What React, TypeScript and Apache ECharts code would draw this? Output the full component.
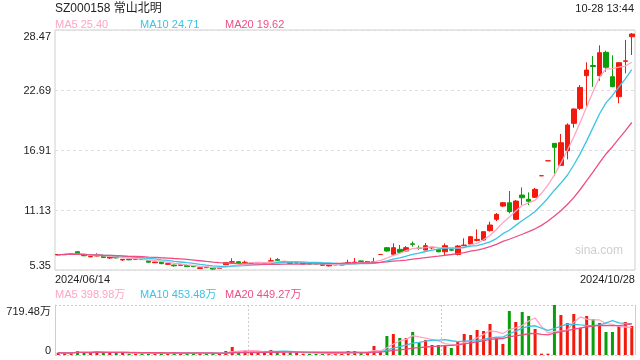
import React, { useEffect, useRef } from 'react';
import * as echarts from 'echarts';

const dates = [
  '2024/06/14', '2024/06/17', '2024/06/18', '2024/06/19', '2024/06/20', '2024/06/21', '2024/06/24', '2024/06/25', '2024/06/26', '2024/06/27', '2024/06/28',
  '2024/07/01', '2024/07/02', '2024/07/03', '2024/07/04', '2024/07/05', '2024/07/08', '2024/07/09', '2024/07/10', '2024/07/11', '2024/07/12',
  '2024/07/15', '2024/07/16', '2024/07/17', '2024/07/18', '2024/07/19', '2024/07/22', '2024/07/23', '2024/07/24', '2024/07/25', '2024/07/26',
  '2024/07/29', '2024/07/30', '2024/07/31',
  '2024/08/01', '2024/08/02', '2024/08/05', '2024/08/06', '2024/08/07', '2024/08/08', '2024/08/09', '2024/08/12', '2024/08/13', '2024/08/14',
  '2024/08/15', '2024/08/16', '2024/08/19', '2024/08/20', '2024/08/21', '2024/08/22', '2024/08/23', '2024/08/26', '2024/08/27', '2024/08/28',
  '2024/08/29', '2024/08/30',
  '2024/09/02', '2024/09/03', '2024/09/04', '2024/09/05', '2024/09/06', '2024/09/09', '2024/09/10', '2024/09/11', '2024/09/12', '2024/09/13',
  '2024/09/18', '2024/09/19', '2024/09/20', '2024/09/23', '2024/09/24', '2024/09/25', '2024/09/26', '2024/09/27', '2024/09/30',
  '2024/10/08', '2024/10/09', '2024/10/10', '2024/10/11', '2024/10/14', '2024/10/15', '2024/10/16', '2024/10/17', '2024/10/18',
  '2024/10/21', '2024/10/22', '2024/10/23', '2024/10/24', '2024/10/25', '2024/10/28',
];

const opens = [
  6.80, 6.82, 6.85, 7.11, 6.78, 6.62, 6.70, 6.70, 6.50, 6.63,
  6.32, 6.40, 6.38, 6.38, 6.23, 6.05, 6.12, 5.90, 5.83, 5.80,
  5.78, 5.74, 5.50, 5.62, 5.56, 5.50, 5.86, 6.10, 6.15, 6.05,
  6.00, 6.05, 6.04, 6.20, 6.35, 6.12, 6.12, 6.03, 5.93, 5.99,
  5.97, 5.86, 5.75, 5.84, 5.83, 6.00, 6.02, 6.22, 6.12, 6.08,
  6.84, 7.50, 6.86, 7.34, 7.18, 7.87, 7.46, 7.28, 7.48, 7.34,
  7.11, 7.30, 6.85, 7.70, 7.85, 8.20, 8.24, 9.14, 10.23, 11.51,
  11.83, 10.23, 12.57, 12.16, 12.35, 14.43, 15.87, 17.55, 15.43, 16.84,
  19.48, 20.92, 24.07, 25.05, 24.07, 26.32, 23.97, 22.04, 25.45, 27.82,
];
const closes = [
  6.84, 6.86, 6.90, 6.92, 6.72, 6.65, 6.74, 6.55, 6.63, 6.52,
  6.38, 6.33, 6.41, 6.35, 6.10, 6.12, 5.96, 5.96, 5.75, 5.85,
  5.68, 5.67, 5.56, 5.57, 5.44, 5.54, 6.06, 6.15, 5.99, 6.10,
  6.05, 6.07, 6.06, 6.25, 6.28, 6.18, 5.99, 6.06, 6.02, 5.92,
  5.94, 5.80, 5.83, 5.87, 5.87, 6.08, 6.10, 6.18, 6.16, 6.16,
  6.84, 7.18, 7.50, 7.05, 7.50, 7.82, 7.42, 7.69, 7.52, 7.11,
  7.69, 7.26, 7.66, 7.75, 8.56, 8.30, 9.04, 9.68, 10.71, 11.83,
  10.97, 11.99, 12.31, 11.97, 13.12, 14.43, 15.87, 17.17, 17.61, 19.32,
  20.86, 22.94, 24.61, 24.95, 26.28, 24.88, 23.01, 25.32, 25.50, 28.08,
];
const lows = [
  6.77, 6.79, 6.83, 6.90, 6.70, 6.58, 6.67, 6.50, 6.42, 6.45,
  6.22, 6.30, 6.36, 6.33, 6.07, 6.03, 5.92, 5.87, 5.68, 5.78,
  5.66, 5.62, 5.45, 5.55, 5.38, 5.46, 5.84, 6.00, 5.96, 6.00,
  5.98, 6.02, 6.02, 6.15, 6.25, 6.10, 5.96, 6.00, 5.90, 5.90,
  5.92, 5.78, 5.70, 5.82, 5.81, 5.95, 6.00, 6.15, 6.10, 6.02,
  6.84, 7.12, 6.70, 6.89, 7.08, 7.60, 7.30, 7.25, 7.35, 7.05,
  6.79, 7.20, 6.75, 7.65, 7.80, 8.10, 8.15, 9.05, 10.07, 11.42,
  10.81, 10.15, 11.61, 11.61, 12.30, 14.43, 15.87, 14.40, 15.43, 16.01,
  19.06, 20.76, 21.02, 23.00, 23.58, 24.45, 22.95, 21.41, 24.30, 26.06,
];
const highs = [
  6.88, 6.89, 6.93, 7.15, 6.80, 6.68, 6.96, 6.72, 6.65, 6.66,
  6.40, 6.42, 6.43, 6.40, 6.25, 6.14, 6.14, 6.00, 5.85, 5.87,
  5.80, 5.76, 5.58, 5.64, 5.58, 5.56, 6.08, 6.48, 6.20, 6.25,
  6.08, 6.10, 6.09, 6.53, 6.50, 6.20, 6.14, 6.09, 6.04, 6.01,
  5.99, 5.88, 5.85, 5.89, 5.89, 6.34, 6.50, 6.25, 6.18, 6.53,
  6.84, 7.55, 7.92, 7.76, 7.66, 8.10, 7.70, 7.95, 7.62, 7.40,
  7.92, 7.40, 7.75, 8.40, 8.60, 9.27, 9.08, 10.00, 10.84, 11.90,
  12.96, 12.09, 13.31, 12.83, 13.25, 14.43, 15.87, 17.55, 18.45, 19.48,
  20.90, 23.17, 25.36, 25.96, 26.99, 26.48, 26.03, 25.32, 27.51, 28.18,
];
// volumes in 万 (10k shares)
const volumes = [
  33, 24, 34, 58, 34, 34, 58, 34, 34, 34,
  34, 19, 19, 24, 24, 24, 24, 24, 43, 24,
  24, 24, 24, 24, 24, 24, 58, 115, 48, 62,
  38, 38, 38, 72, 38, 38, 38, 38, 19, 19,
  19, 19, 24, 24, 24, 58, 58, 30, 30, 130,
  58, 273, 302, 245, 245, 331, 177, 216, 144, 144,
  144, 101, 192, 302, 288, 360, 345, 446, 235, 158,
  633, 475, 619, 561, 374, 19, 19, 719.48, 576, 460,
  590, 393, 561, 518, 460, 331, 331, 417, 475, 417,
];

const priceMin = 5.35;
const priceMax = 28.47;
const volumeMax = 719.48;
const title = 'SZ000158 常山北明';
const timeLabel = '10-28 13:44';
const maPeriods = [5, 10, 20];
const priceMALegend = ['MA5 25.40', 'MA10 24.71', 'MA20 19.62'];
const volumeMALegend = ['MA5 398.98万', 'MA10 453.48万', 'MA20 449.27万'];
const watermark = 'sina.com';

const RED = '#f3190d';
const GREEN = '#0a9f0a';
const MA_COLORS = ['#ffa5c4', '#3cc4e4', '#ee4f83'];
const FONT = '"Liberation Sans", Arial, "Noto Sans CJK SC", sans-serif';

function movingAverage(values: number[], n: number): number[] {
  return values.map((_, i) => {
    const s = Math.max(0, i - n + 1);
    let sum = 0;
    for (let k = s; k <= i; k++) sum += values[k];
    return +(sum / (i - s + 1)).toFixed(3);
  });
}

export default function App() {
  const ref = useRef<HTMLDivElement>(null);
  useEffect(() => {
    if (!ref.current) return;
    const chart = echarts.init(ref.current, null, { renderer: 'svg' });
    const isUp = (i: number) =>
      closes[i] > opens[i] || (closes[i] === opens[i] && (i === 0 || closes[i] >= closes[i - 1]));

    const candleData = dates.map((_, i) => [opens[i], closes[i], lows[i], highs[i]]);
    const volData = volumes.map((v, i) => ({ value: v, itemStyle: { color: isUp(i) ? RED : GREEN } }));

    const priceMA = maPeriods.map((p, k) => ({
      type: 'line',
      xAxisIndex: 0,
      yAxisIndex: 0,
      data: movingAverage(closes, p),
      symbol: 'none',
      lineStyle: { color: MA_COLORS[k], width: 1.3 },
      z: 3,
    }));
    const volMA = maPeriods.map((p, k) => ({
      type: 'line',
      xAxisIndex: 1,
      yAxisIndex: 1,
      data: movingAverage(volumes, p),
      symbol: 'none',
      lineStyle: { color: MA_COLORS[k], width: 1.3 },
      z: 3,
    }));

    const legendX = [55, 140, 225];
    const txt = (text: string, x: number, y: number, fill: string, align = 'left', size = 11) => ({
      type: 'text',
      x,
      y,
      silent: true,
      style: { text, fill, textAlign: align, textVerticalAlign: 'middle', fontSize: size, fontFamily: FONT },
    });

    const option: any = {
      animation: false,
      textStyle: { fontFamily: FONT },
      grid: [
        { left: 55, top: 30, width: 580, height: 240, show: true, borderColor: '#cfcfcf', borderWidth: 1 },
        { left: 55, top: 305, width: 580, height: 50 },
      ],
      xAxis: [
        {
          type: 'category', gridIndex: 0, data: dates,
          axisLine: { show: false }, axisTick: { show: false }, axisLabel: { show: false }, splitLine: { show: false },
        },
        {
          type: 'category', gridIndex: 1, data: dates,
          axisLine: { show: false }, axisTick: { show: false }, axisLabel: { show: false },
          splitLine: {
            show: true,
            interval: (i: number) => i === 30 || i === 60,
            lineStyle: { color: '#cccccc', type: [2, 2] },
          },
        },
      ],
      yAxis: [
        {
          type: 'value', gridIndex: 0, min: priceMin, max: priceMax, interval: (priceMax - priceMin) / 4,
          axisLine: { show: false }, axisTick: { show: false },
          axisLabel: {
            color: '#222', fontSize: 11, margin: 4,
            formatter: (v: number) => v.toFixed(2),
            verticalAlignMinLabel: 'bottom', verticalAlignMaxLabel: 'top',
          },
          splitLine: { lineStyle: { color: '#dddddd', type: [3, 3] } },
        },
        {
          type: 'value', gridIndex: 1, min: 0, max: volumeMax, interval: volumeMax,
          axisLine: { show: true, lineStyle: { color: '#cfcfcf' } }, axisTick: { show: false },
          axisLabel: {
            color: '#222', fontSize: 11, margin: 4,
            formatter: (v: number) => (v === 0 ? '0' : v.toFixed(2) + '万'),
            verticalAlignMinLabel: 'bottom', verticalAlignMaxLabel: 'top',
          },
          splitLine: { lineStyle: { color: '#cccccc', type: [2, 2] } },
        },
      ],
      series: [
        {
          type: 'candlestick', xAxisIndex: 0, yAxisIndex: 0, data: candleData, barWidth: 5,
          itemStyle: { color: RED, color0: GREEN, borderColor: RED, borderColor0: GREEN, borderWidth: 1 },
          z: 2,
        },
        ...priceMA,
        { type: 'bar', xAxisIndex: 1, yAxisIndex: 1, data: volData, barWidth: 3, z: 2 },
        ...volMA,
      ],
      graphic: [
        txt(title, 55, 8, '#222', 'left', 12),
        txt(timeLabel, 634, 8, '#222', 'right', 11),
        ...priceMALegend.map((t, k) => txt(t, legendX[k], 24, MA_COLORS[k])),
        ...volumeMALegend.map((t, k) => txt(t, legendX[k], 294, MA_COLORS[k])),
        txt(dates[0], 55, 279, '#222', 'left', 11),
        txt(dates[dates.length - 1], 635, 279, '#222', 'right', 11),
        txt(watermark, 623, 250, '#cfcfcf', 'right', 12),
        {
          type: 'line', silent: true,
          shape: { x1: 635.5, y1: 305, x2: 635.5, y2: 355 },
          style: { stroke: '#cfcfcf', lineWidth: 1 },
        },
      ],
    };
    chart.setOption(option);
    return () => chart.dispose();
  }, []);
  return <div ref={ref} style={{ position: 'fixed', left: 0, top: 0, width: 640, height: 360 }} />;
}
